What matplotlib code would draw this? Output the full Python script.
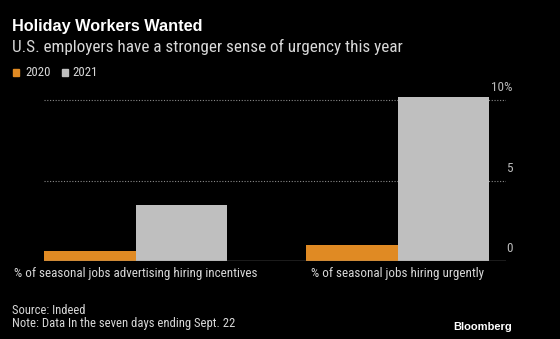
import matplotlib
matplotlib.use("Agg")
import matplotlib.pyplot as plt
import numpy as np

categories = ["% of seasonal jobs advertising hiring incentives",
              "% of seasonal jobs hiring urgently"]
series_names = ["2020", "2021"]
values_2020 = [0.6, 1.0]
values_2021 = [3.5, 10.2]
yticks = [0, 5, 10]
ytick_labels = ["0", "5", "10%"]

ORANGE = "#e08a23"
GRAY = "#bfbfbf"
BG = "#000000"
TXT = "#d8d8d8"

plt.rcParams['font.family'] = ['Roboto Condensed', 'DejaVu Sans']

fig = plt.figure(figsize=(5.6, 3.39), dpi=100, facecolor=BG)
W, H = 560, 339
ax = fig.add_axes([44 / W, 1 - 261 / H, (506 - 44) / W, (261 - 92) / H])
ax.set_facecolor(BG)

x = np.arange(len(categories))
w = 0.35
ax.bar(x - w / 2, values_2020, width=w, color=ORANGE, label=series_names[0], zorder=3)
ax.bar(x + w / 2, values_2021, width=w, color=GRAY, label=series_names[1], zorder=3)

ax.set_xlim(-0.35, 1.414)
ax.set_ylim(0, 10.5)

for t in yticks[1:]:
    ax.axhline(t, color="#8a8a8a", lw=0.8, ls=(0, (1, 1.5)), zorder=1)
ax.axhline(0, color="#8a8a8a", lw=1.0, zorder=4)

for s in ax.spines.values():
    s.set_visible(False)
ax.set_yticks([])
ax.set_xticks(x)
ax.set_xticklabels(categories, color=TXT, fontsize=9.4)
ax.tick_params(axis="x", length=0, pad=4.5)

for t, lab in zip(yticks, ytick_labels):
    ax.annotate(lab, xy=(1.0, t), xycoords=("axes fraction", "data"),
                xytext=(5, 4), textcoords="offset points",
                ha="right", va="bottom", color="#bbbbbb", fontsize=9.5)

fig.text(12 / W, 1 - 27 / H, "Holiday Workers Wanted", color="white",
         fontsize=11.7, fontweight="bold", va="center", ha="left",
         family=["Liberation Sans", "DejaVu Sans"])
fig.text(12 / W, 1 - 46.5 / H, "U.S. employers have a stronger sense of urgency this year",
         color=TXT, fontsize=12.3, va="center", ha="left")

# legend drawn as small squares with labels
fig.patches.append(plt.Rectangle((12.5 / W, 1 - 76 / H), 6.5 / W, 7 / H, color=ORANGE,
                                 transform=fig.transFigure, figure=fig))
fig.text(25 / W, 1 - 72.5 / H, series_names[0], color=TXT, fontsize=9.2, va="center")
fig.patches.append(plt.Rectangle((61.5 / W, 1 - 76 / H), 6.5 / W, 7 / H, color=GRAY,
                                 transform=fig.transFigure, figure=fig))
fig.text(72 / W, 1 - 72.5 / H, series_names[1], color=TXT, fontsize=9.2, va="center")

fig.text(12 / W, 1 - 310 / H, "Source: Indeed", color=TXT, fontsize=9, va="center")
fig.text(12 / W, 1 - 323.5 / H, "Note: Data In the seven days ending Sept. 22",
         color=TXT, fontsize=9.1, va="center")
fig.text(512 / W, 1 - 327.5 / H, "Bloomberg", color="white", fontsize=8,
         fontweight="bold", ha="right", va="center", family=["Liberation Sans", "DejaVu Sans"])

fig.savefig("out.png", dpi=100, facecolor=BG)
